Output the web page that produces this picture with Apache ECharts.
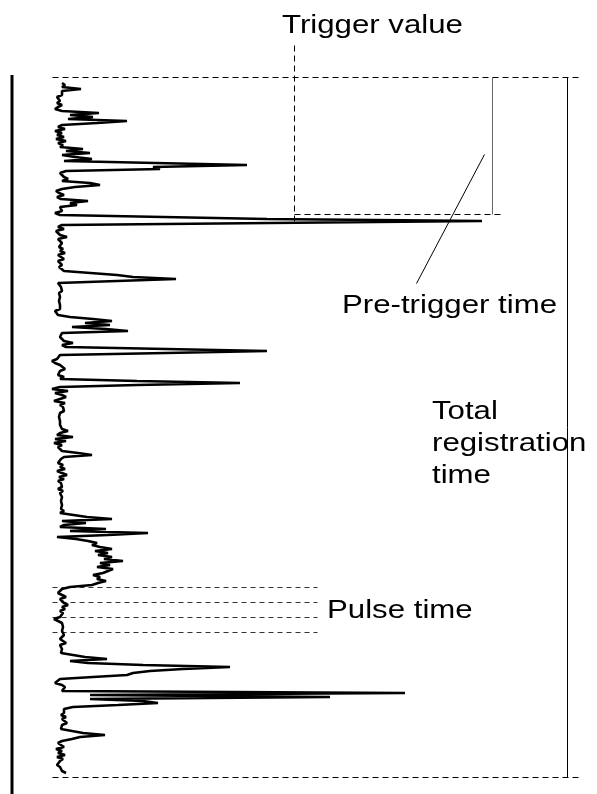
<!DOCTYPE html>
<html>
<head>
<meta charset="utf-8">
<script src="https://cdn.jsdelivr.net/npm/echarts@6/dist/echarts.min.js"></script>
<style>
  html, body { margin: 0; padding: 0; background: #fff; }
  #chart { width: 597px; height: 794px; }
</style>
</head>
<body>
<div id="chart"></div>
<script>
// ===== Data: signal trace (time runs downward) =====
const startTime = 6;
const sampleStep = 2;
const recordEnd = 700;
const ampMax = 530;
const amplitude = [
  10,13,10,29,10,8,10,5,3,8,
  5,10,6,3,10,47,18,41,16,75,
  45,10,6,13,3,10,5,12,4,14,
  6,11,8,31,14,38,10,23,40,12,
  11,195,101,108,14,8,6,12,16,10,
  38,48,23,10,4,7,12,5,9,36,
  18,25,8,6,10,3,8,6,215,430,
  218,10,6,12,4,3,8,15,6,5,
  10,8,7,11,8,13,6,9,12,6,
  8,10,7,9,12,12,65,81,124,65,
  6,8,9,8,10,7,9,8,10,7,
  9,8,6,8,3,4,6,18,41,60,
  33,58,20,54,76,10,8,8,6,12,
  21,10,14,114,215,114,8,10,5,0,
  3,8,10,13,8,10,6,12,8,85,
  188,85,8,0,16,3,10,14,8,2,
  13,8,11,9,12,8,10,7,9,8,
  10,8,9,10,16,8,5,21,3,14,
  2,10,6,8,10,26,40,12,9,10,
  6,11,8,13,5,10,15,7,12,6,
  9,8,10,6,11,8,9,10,8,9,
  7,10,8,9,12,8,9,35,60,10,
  34,12,8,54,18,96,56,5,24,36,
  45,40,48,60,43,56,46,60,52,71,
  48,58,45,61,60,51,41,48,45,54,
  46,40,18,10,8,6,10,14,8,6,
  12,16,10,13,8,11,10,8,2,6,
  10,8,11,9,10,8,12,13,8,10,
  14,8,7,10,8,9,10,33,55,18,
  36,91,178,131,98,81,75,41,8,6,
  3,10,13,15,10,353,38,278,38,91,
  106,66,21,12,10,12,9,14,10,11,
  15,10,12,9,11,31,53,28,20,10,
  6,8,12,4,10,6,13,5,11,8,
  10,5,8,6,10,14
];

// ===== Annotation anchors (amplitude, time) =====
const triggerAmp = 242;
const triggerTop = -32;
const triggerBottom = 146;
const preTriggerTime = 137;
const preTriggerBracketAmp = 440;
const preTriggerDashEnd = 450;
const totalTimeAmp = 515;
const pulseTimes = [510, 525, 540, 555];
const pulseLineEnd = 265;
const leaderFrom = [432, 77];
const leaderTo = [364, 206];

const chart = echarts.init(document.getElementById('chart'));
chart.setOption({
  animation: false,
  grid: { left: 52, top: 77, width: 530, height: 700 },
  xAxis: { type: 'value', min: 0, max: ampMax, show: false },
  yAxis: { type: 'value', min: 0, max: recordEnd, inverse: true, show: false },
  series: [{
    type: 'line',
    showSymbol: false,
    clip: false,
    lineStyle: { color: '#000', width: 2.6 },
    data: amplitude.map((a, i) => [a, startTime + i * sampleStep])
  }]
});

// ===== Annotations placed through the chart's scales =====
const px = (a, t) => chart.convertToPixel({ gridIndex: 0 }, [a, t]);
const crisp = v => Math.round(v) + 0.5;
const FONT = '26px "Liberation Sans", Arial, sans-serif';
const dash = { stroke: '#000', lineWidth: 1, lineDash: [6, 4] };

function line(p1, p2, style) {
  return { type: 'line', shape: { x1: crisp(p1[0]), y1: crisp(p1[1]), x2: crisp(p2[0]), y2: crisp(p2[1]) }, style };
}
function label(text, x, y) {
  return {
    type: 'text', x, y, scaleX: 1.2, originX: 0,
    style: { text, font: FONT, fill: '#000', verticalAlign: 'middle', align: 'left' }
  };
}

const g = [];
// left thick time axis
g.push({ type: 'line', shape: { x1: 12, y1: 75, x2: 12, y2: 794 }, style: { stroke: '#000', lineWidth: 3 } });
// record window top / bottom
g.push(line(px(0, 0), px(ampMax, 0), dash));
g.push(line(px(0, recordEnd), px(ampMax, recordEnd), dash));
// total registration time bracket
g.push(line(px(totalTimeAmp, 0), px(totalTimeAmp, recordEnd), { stroke: '#000', lineWidth: 1 }));
// trigger value
g.push(line(px(triggerAmp, triggerTop), px(triggerAmp, triggerBottom), dash));
g.push(line(px(triggerAmp, preTriggerTime), px(preTriggerDashEnd, preTriggerTime), dash));
// pre-trigger bracket + leader
g.push(line(px(preTriggerBracketAmp, 0), px(preTriggerBracketAmp, preTriggerTime), { stroke: '#666', lineWidth: 1 }));
g.push(line(px(leaderFrom[0], leaderFrom[1]), px(leaderTo[0], leaderTo[1]), { stroke: '#000', lineWidth: 1 }));
// pulse time marks
pulseTimes.forEach(t => {
  g.push(line(px(0, t), px(pulseLineEnd, t), { stroke: '#333', lineWidth: 1, lineDash: [5, 4] }));
});
// labels
g.push(label('Trigger value', 282, 26));
g.push(label('Pre-trigger time', 342, 306));
g.push(label('Total', 432, 412));
g.push(label('registration', 432, 444));
g.push(label('time', 432, 476));
g.push(label('Pulse time', 327, 611));

chart.setOption({ graphic: g });
</script>
</body>
</html>
